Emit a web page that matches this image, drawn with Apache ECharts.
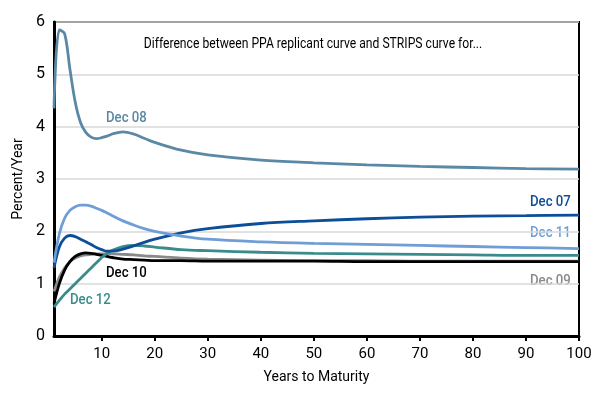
<!DOCTYPE html>
<html><head><meta charset="utf-8">
<script src="https://cdn.jsdelivr.net/npm/echarts@6/dist/echarts.min.js"></script>
<style>html,body{margin:0;padding:0;background:#fff}#c{width:600px;height:400px}</style>
</head><body><div id="c"></div>
<script>
var FONT = "Roboto, 'Noto Sans', sans-serif";
var years  = [1,2,3,4,5,6,7,8,9,10,11,12,14,16,18,20,25,30,40,50,60,70,80,90,100];
var dec07  = [1.30,1.70,1.87,1.92,1.90,1.85,1.80,1.75,1.69,1.65,1.62,1.62,1.66,1.72,1.79,1.85,1.97,2.05,2.15,2.20,2.24,2.27,2.29,2.30,2.31];
var dec08  = [4.35,5.85,5.78,5.10,4.47,4.08,3.89,3.80,3.77,3.79,3.82,3.86,3.90,3.86,3.78,3.70,3.55,3.46,3.36,3.31,3.27,3.24,3.22,3.20,3.19];
var dec09  = [0.85,1.12,1.30,1.42,1.49,1.53,1.55,1.56,1.57,1.57,1.57,1.57,1.56,1.55,1.53,1.52,1.49,1.47,1.45,1.44,1.44,1.43,1.43,1.43,1.43];
var dec10  = [0.62,1.00,1.26,1.42,1.52,1.57,1.59,1.58,1.56,1.54,1.52,1.50,1.47,1.46,1.45,1.44,1.44,1.43,1.43,1.43,1.42,1.42,1.42,1.42,1.42];
var dec11  = [1.40,1.95,2.25,2.40,2.47,2.50,2.50,2.48,2.44,2.40,2.35,2.30,2.20,2.12,2.05,2.00,1.91,1.85,1.80,1.77,1.75,1.73,1.71,1.69,1.67];
var dec12  = [0.55,0.68,0.80,0.90,1.00,1.10,1.20,1.30,1.40,1.50,1.58,1.64,1.71,1.73,1.72,1.70,1.65,1.63,1.60,1.58,1.57,1.56,1.55,1.54,1.54];
var xTicks = [10,20,30,40,50,60,70,80,90,100];

var colors = {dec07:'#0c4e98', dec08:'#5a88a5', dec09:'#8a8a8a', dec10:'#000000', dec11:'#6f9ed6', dec12:'#3a8c8c'};
function pairs(arr){ return years.map(function(y,i){ return [y, arr[i]]; }); }
function ser(name, arr, c){
  return {name:name, type:'line', data:pairs(arr), smooth:0.35, symbol:'none',
    lineStyle:{color:c, width:2.8}, itemStyle:{color:c}};
}
function label(txt, x, y, c){
  return {type:'text', x:x, y:y, scaleX:0.88, style:{text:txt, font:'500 15px '+FONT, fill:c}};
}
var chart = echarts.init(document.getElementById('c'));
chart.setOption({
  animation:false,
  textStyle:{fontFamily:FONT},
  grid:{left:54, right:21, top:22, bottom:64, show:true, borderColor:'#000', borderWidth:2, backgroundColor:'transparent'},
  xAxis:{type:'value', min:1, max:100,
    name:'Years to Maturity', nameLocation:'middle', nameGap:34,
    nameTextStyle:{fontFamily:FONT, fontSize:14, color:'#000'},
    axisLine:{lineStyle:{color:'#000', width:3}},
    axisTick:{show:true, customValues:xTicks, length:5, lineStyle:{color:'#000', width:2}},
    axisLabel:{customValues:xTicks, fontFamily:FONT, fontSize:15, color:'#000', margin:11},
    splitLine:{show:false}},
  yAxis:{type:'value', min:0, max:6, interval:1,
    name:'Percent/Year', nameLocation:'middle', nameGap:28,
    nameTextStyle:{fontFamily:FONT, fontSize:14, color:'#000'},
    axisLine:{show:true, lineStyle:{color:'#000', width:3}},
    axisTick:{show:false},
    axisLabel:{fontFamily:FONT, fontSize:16, color:'#000', margin:9},
    splitLine:{show:true, lineStyle:{color:'#d9d9d9', width:1.5}}},
  series:[
    ser('Dec 09', dec09, colors.dec09),
    ser('Dec 10', dec10, colors.dec10),
    ser('Dec 12', dec12, colors.dec12),
    ser('Dec 07', dec07, colors.dec07),
    ser('Dec 11', dec11, colors.dec11),
    ser('Dec 08', dec08, colors.dec08)
  ],
  graphic:[
    {type:'text', x:313, y:37, scaleX:0.81, style:{text:'Difference between PPA replicant curve and STRIPS curve for...', font:'15px '+FONT, fill:'#000', align:'center'}},
    label('Dec 08', 106, 111, colors.dec08),
    label('Dec 07', 530, 195, colors.dec07),
    label('Dec 11', 530, 226, colors.dec11),
    label('Dec 09', 530, 274, colors.dec09),
    label('Dec 10', 106, 266, colors.dec10),
    label('Dec 12', 70, 293, colors.dec12)
  ]
});
</script></body></html>
